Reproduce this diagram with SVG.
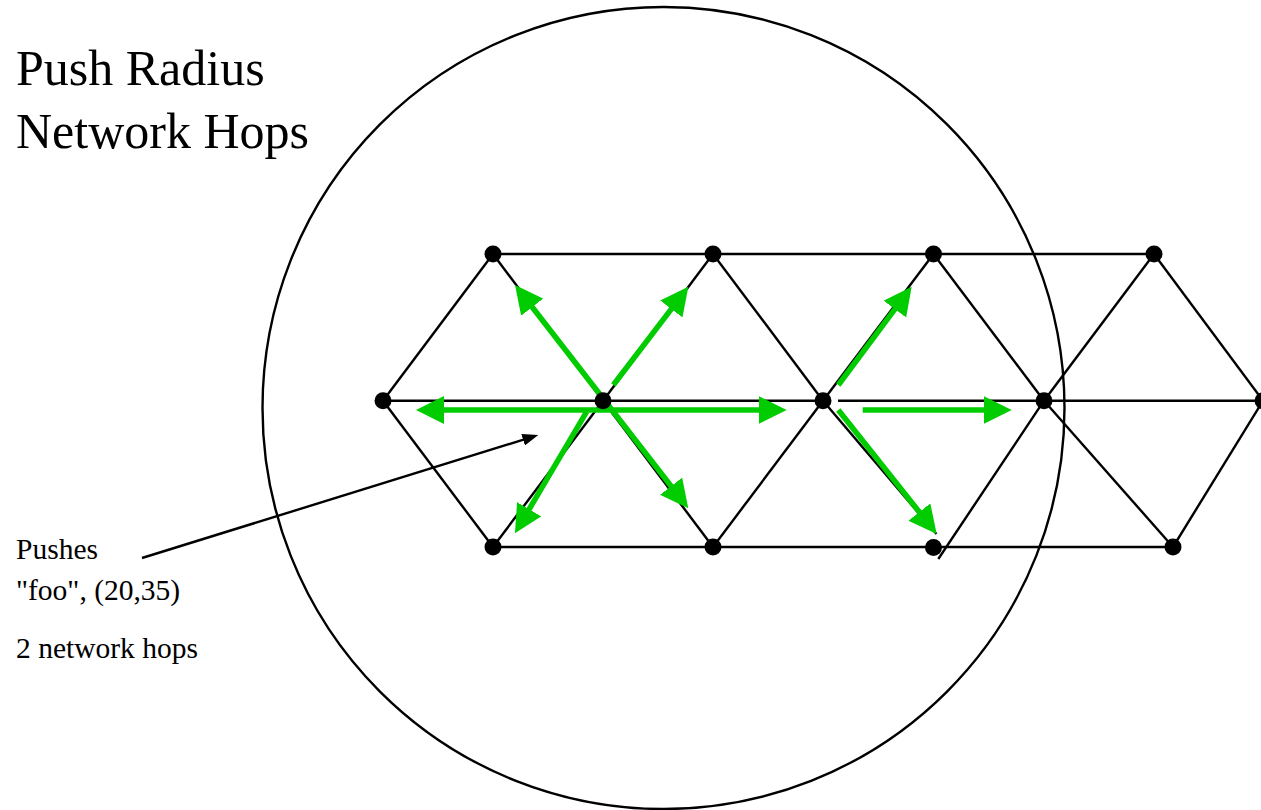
<svg xmlns="http://www.w3.org/2000/svg" width="1261" height="810" viewBox="0 0 1261 810">
  <style>
    .edge { stroke: #000; stroke-width: 2.4; fill: none; }
    .node { fill: #000; }
    .push { stroke: #00cc00; stroke-width: 5.5; fill: none; marker-end: url(#gHead); }
    .push2 { stroke: #00cc00; stroke-width: 5.5; fill: none; marker-start: url(#gHead); marker-end: url(#gHead); }
    .title { font-family: "Liberation Serif", "Times New Roman", serif; font-size: 50px; fill: #000; }
    .label { font-family: "Liberation Serif", "Times New Roman", serif; font-size: 29.5px; fill: #000; }
  </style>
  <defs>
    <marker id="gHead" viewBox="0 0 28 28" refX="8" refY="14" markerWidth="28" markerHeight="28" markerUnits="userSpaceOnUse" orient="auto-start-reverse">
      <path d="M0,0 L28,14 L0,28 Z" fill="#00cc00"/>
    </marker>
    <marker id="bHead" viewBox="0 0 16 12" refX="8" refY="6" markerWidth="16" markerHeight="12" markerUnits="userSpaceOnUse" orient="auto">
      <path d="M0,0 L16,6 L0,12 Z" fill="#000"/>
    </marker>
  </defs>
  <rect width="1261" height="810" fill="#fff"/>

  <g id="title">
    <text class="title" x="16" y="85">Push Radius</text>
    <text class="title" x="16" y="148">Network Hops</text>
  </g>

  <g id="radius-circle">
    <circle cx="663.5" cy="408" r="401" class="edge"/>
  </g>

  <g id="connectors">
    <!-- horizontal rows -->
    <line class="edge" x1="493" y1="254" x2="1154" y2="254"/>
    <line class="edge" x1="383" y1="400.7" x2="823" y2="400.7"/>
    <line class="edge" x1="838" y1="400.7" x2="1263" y2="400.7"/>
    <line class="edge" x1="493" y1="547" x2="1173" y2="547"/>
    <!-- diagonals -->
    <line class="edge" x1="383" y1="400.7" x2="493" y2="254"/>
    <line class="edge" x1="383" y1="400.7" x2="493" y2="547"/>
    <line class="edge" x1="493" y1="254" x2="603" y2="400.7"/>
    <line class="edge" x1="493" y1="547" x2="603" y2="400.7"/>
    <line class="edge" x1="603" y1="400.7" x2="713" y2="254"/>
    <line class="edge" x1="603" y1="400.7" x2="713" y2="547"/>
    <line class="edge" x1="713" y1="254" x2="823" y2="400.7"/>
    <line class="edge" x1="713" y1="547" x2="823" y2="400.7"/>
    <line class="edge" x1="823" y1="400.7" x2="933.5" y2="254"/>
    <line class="edge" x1="823" y1="400.7" x2="936.5" y2="534"/>
    <line class="edge" x1="933.5" y1="254" x2="1044" y2="400.7"/>
    <line class="edge" x1="1044" y1="400.7" x2="938.3" y2="559"/>
    <line class="edge" x1="1044" y1="400.7" x2="1154" y2="254"/>
    <line class="edge" x1="1044" y1="400.7" x2="1173" y2="547"/>
    <line class="edge" x1="1154" y1="254" x2="1263" y2="400.7"/>
    <line class="edge" x1="1173" y1="547" x2="1263" y2="400.7"/>

    <!-- green push arrows from centre node -->
    <line class="push2" x1="436" y1="410" x2="766.7" y2="410"/>
    <line class="push2" x1="527.3" y1="300.8" x2="676" y2="492.5"/>
    <line class="push" x1="613.3" y1="385" x2="676.2" y2="302.6"/>
    <line class="push" x1="586.7" y1="411.7" x2="525.1" y2="516.1"/>
    <!-- green push arrows from second node -->
    <line class="push" x1="838.3" y1="385" x2="899.7" y2="302.7"/>
    <line class="push" x1="862.7" y1="410" x2="991.7" y2="410"/>
    <line class="push" x1="838.3" y1="410" x2="924.3" y2="518.3"/>

    <!-- annotation pointer -->
    <line class="edge" x1="142" y1="558" x2="530.7" y2="437.4" marker-end="url(#bHead)"/>
  </g>

  <g id="nodes">
    <circle class="node" cx="493" cy="254" r="8.5"/>
    <circle class="node" cx="713" cy="254" r="8.5"/>
    <circle class="node" cx="933.5" cy="254" r="8.5"/>
    <circle class="node" cx="1154" cy="254" r="8.5"/>
    <circle class="node" cx="383" cy="400.7" r="8.5"/>
    <circle class="node" cx="603" cy="400.7" r="8.5"/>
    <circle class="node" cx="823" cy="400.7" r="8.5"/>
    <circle class="node" cx="1044" cy="400.7" r="8.5"/>
    <circle class="node" cx="1263" cy="400.7" r="8.5"/>
    <circle class="node" cx="493" cy="547" r="8.5"/>
    <circle class="node" cx="713" cy="547" r="8.5"/>
    <circle class="node" cx="933.5" cy="547.5" r="8.5"/>
    <circle class="node" cx="1173" cy="547" r="8.5"/>
  </g>

  <g id="annotation">
    <text class="label" x="16" y="559">Pushes</text>
    <text class="label" x="16" y="600">"foo", (20,35)</text>
    <text class="label" x="16" y="658">2 network hops</text>
  </g>
</svg>
